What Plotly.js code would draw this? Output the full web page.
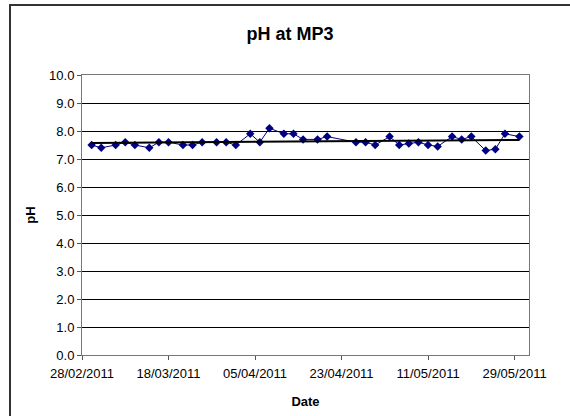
<!DOCTYPE html>
<html>
<head>
<meta charset="utf-8">
<script src="https://cdn.plot.ly/plotly-3.0.1.min.js"></script>
<style>
html,body{margin:0;padding:0;background:#fff;}
#wrap{position:relative;width:570px;height:416px;overflow:hidden;}
#chart{width:570px;height:416px;}
#frame{position:absolute;left:9px;top:4px;width:620px;height:460px;border:2px solid #333;pointer-events:none;}
</style>
</head>
<body>
<div id="wrap"><div id="chart"></div><div id="frame"></div></div>
<script>
const dates = ["2011-03-02","2011-03-04","2011-03-07","2011-03-09","2011-03-11","2011-03-14","2011-03-16","2011-03-18","2011-03-21","2011-03-23","2011-03-25","2011-03-28","2011-03-30","2011-04-01","2011-04-04","2011-04-06","2011-04-08","2011-04-11","2011-04-13","2011-04-15","2011-04-18","2011-04-20","2011-04-26","2011-04-28","2011-04-30","2011-05-03","2011-05-05","2011-05-07","2011-05-09","2011-05-11","2011-05-13","2011-05-16","2011-05-18","2011-05-20","2011-05-23","2011-05-25","2011-05-27","2011-05-30"];
const ph = [7.5,7.4,7.5,7.6,7.5,7.4,7.6,7.6,7.5,7.5,7.6,7.6,7.6,7.5,7.9,7.6,8.1,7.9,7.9,7.7,7.7,7.8,7.6,7.6,7.5,7.8,7.5,7.55,7.6,7.5,7.45,7.8,7.7,7.8,7.3,7.35,7.9,7.8];
const xTickStart = "2011-02-28";
const xRange = ["2011-02-28","2011-06-01"];
const yRange = [0,10];

// linear trend (least squares) computed from the data
const t = dates.map(d => new Date(d + "T00:00:00Z").getTime());
const n = t.length;
const mx = t.reduce((a,b)=>a+b,0)/n, my = ph.reduce((a,b)=>a+b,0)/n;
let sxy=0,sxx=0;
for(let i=0;i<n;i++){sxy+=(t[i]-mx)*(ph[i]-my);sxx+=(t[i]-mx)*(t[i]-mx);}
const slope = sxy/sxx, icpt = my - slope*mx;
const trendX = [dates[0], dates[n-1]];
const trendY = [icpt + slope*t[0], icpt + slope*t[n-1]];

const traces = [
  {x: dates, y: ph, type:'scatter', mode:'lines+markers',
   line:{color:'#000080', width:1},
   marker:{symbol:'diamond', size:6.5, color:'#000080'}, showlegend:false, hoverinfo:'skip'},
  {x: trendX, y: trendY, type:'scatter', mode:'lines',
   line:{color:'#000000', width:2}, showlegend:false, hoverinfo:'skip'}
];

const layout = {
  width:570, height:416,
  margin:{l:82, r:41, t:75, b:61, pad:0},
  paper_bgcolor:'#fff', plot_bgcolor:'#fff',
  font:{family:'"Liberation Sans", Arial, sans-serif', size:13, color:'#000'},
  title:{text:'<b>pH at MP3</b>', font:{size:18, color:'#000'}, x:290/570, xref:'container', xanchor:'center', y:1-34/416, yref:'container', yanchor:'middle'},
  xaxis:{
    type:'date', range:xRange, tick0:xTickStart, dtick:18*86400000, tickformat:'%d/%m/%Y',
    ticks:'outside', ticklen:4, tickcolor:'#555', showgrid:false, zeroline:false,
    showline:true, linecolor:'#777', linewidth:1, mirror:true,
    tickfont:{size:13}, ticklabelstandoff:2,
    title:{text:'<b>Date</b>', font:{size:13}, standoff:17}
  },
  yaxis:{
    range:yRange, dtick:1, tick0:0, tickformat:'.1f',
    ticks:'outside', ticklen:4, tickcolor:'#555',
    showgrid:true, gridcolor:'#000', gridwidth:1, zeroline:false,
    showline:true, linecolor:'#777', linewidth:1, mirror:true,
    tickfont:{size:13},
    title:{text:'<b>pH</b>', font:{size:13}, standoff:10}
  }
};

Plotly.newPlot('chart', traces, layout, {staticPlot:true, displayModeBar:false});
</script>
</body>
</html>
